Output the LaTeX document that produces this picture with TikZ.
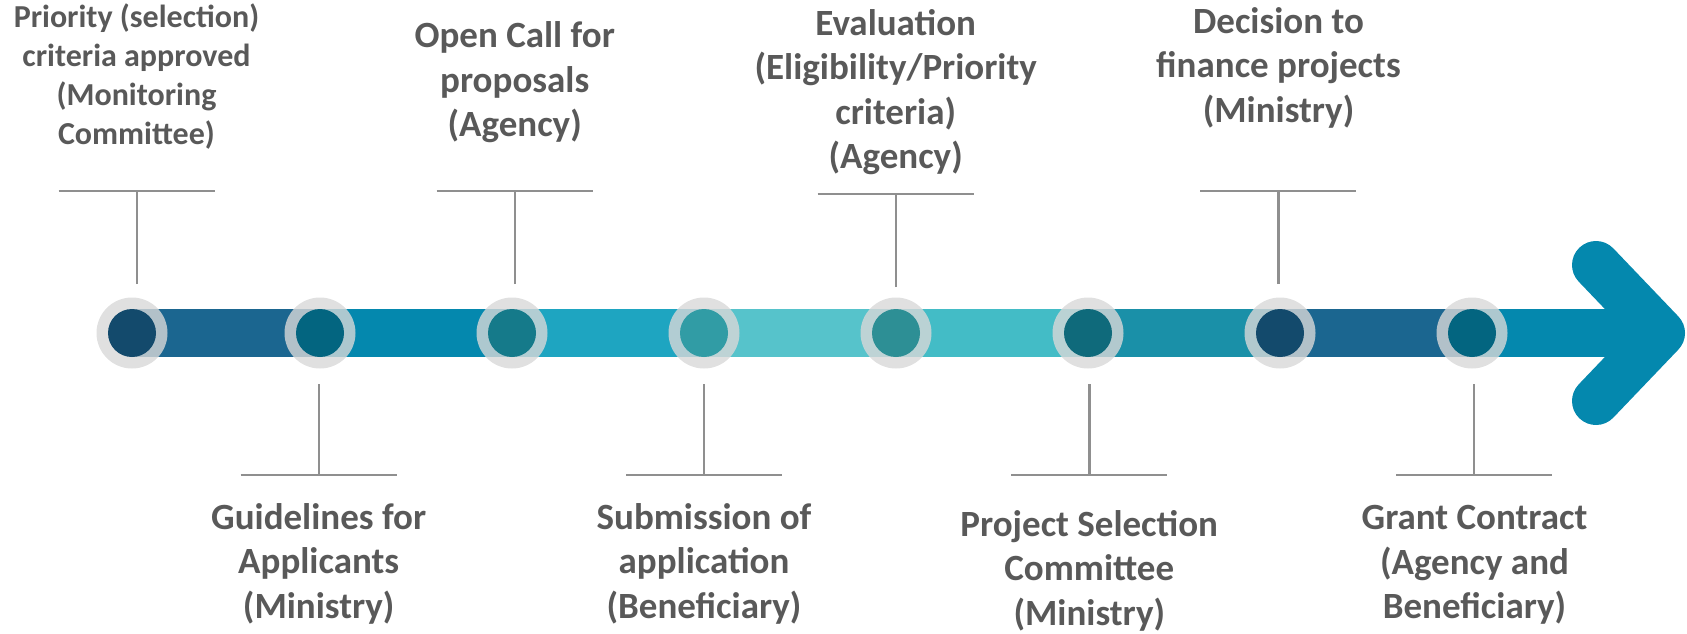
\documentclass[tikz,border=0pt]{standalone}
\usepackage{fontspec}
\newfontfamily\lblfont{Carlito}
\definecolor{txt}{HTML}{595959}
\definecolor{leadc}{HTML}{8F8F8F}
\definecolor{ringc}{HTML}{D8D8D8}
\definecolor{sA}{HTML}{1B6690}
\definecolor{sB}{HTML}{0488AE}
\definecolor{sC}{HTML}{1EA5C1}
\definecolor{sD}{HTML}{56C3CB}
\definecolor{sE}{HTML}{43BCC6}
\definecolor{sF}{HTML}{1A90A8}
\definecolor{dA}{HTML}{134A6C}
\definecolor{dB}{HTML}{036580}
\definecolor{dC}{HTML}{157A8A}
\definecolor{dD}{HTML}{319CA5}
\definecolor{dE}{HTML}{2D8F95}
\definecolor{dF}{HTML}{0F6A7B}
\newcommand\firststrut{\rule{0pt}{0.8em}}
\tikzset{
  ringnode/.style={circle, fill=ringc, fill opacity=0.8, minimum size=71pt, inner sep=0pt},
  dotnode/.style={circle, minimum size=48pt, inner sep=0pt},
  leader/.style={draw=leadc, line width=2.4pt},
  lbl/.style={font=\lblfont\bfseries\fontsize{37}{44.5}\selectfont, text=txt, align=center, anchor=north, inner sep=0pt},
  lblsmall/.style={lbl, font=\lblfont\bfseries\fontsize{32}{39}\selectfont},
  barseg/.style={draw=none},
}
\begin{document}
\begin{tikzpicture}[x=1pt,y=-1pt]
\useasboundingbox (0,0) rectangle (1687,633);
% bar segments
\fill[sA] (132,309) rectangle (320,357);
\fill[sB] (320,309) rectangle (512,357);
\fill[sC] (512,309) rectangle (704,357);
\fill[sD] (704,309) rectangle (896,357);
\fill[sE] (896,309) rectangle (1088,357);
\fill[sF] (1088,309) rectangle (1280,357);
\fill[sA] (1280,309) rectangle (1472,357);
\fill[sB] (1472,309) rectangle (1661,357);
% chevron
\coordinate (chA) at (1596,265);
\coordinate (chT) at (1661,333);
\coordinate (chB) at (1596,401);
\draw[sB, line width=48pt, line cap=round, line join=round] (chA) -- (chT) -- (chB);
% rings and dots
\node[ringnode] (r1) at (132,333) {};
\node[ringnode] (r2) at (320,333) {};
\node[ringnode] (r3) at (512,333) {};
\node[ringnode] (r4) at (704,333) {};
\node[ringnode] (r5) at (896,333) {};
\node[ringnode] (r6) at (1088,333) {};
\node[ringnode] (r7) at (1280,333) {};
\node[ringnode] (r8) at (1472,333) {};
\node[dotnode, fill=dA] (d1) at (r1) {};
\node[dotnode, fill=dB] (d2) at (r2) {};
\node[dotnode, fill=dC] (d3) at (r3) {};
\node[dotnode, fill=dD] (d4) at (r4) {};
\node[dotnode, fill=dE] (d5) at (r5) {};
\node[dotnode, fill=dF] (d6) at (r6) {};
\node[dotnode, fill=dA] (d7) at (r7) {};
\node[dotnode, fill=dB] (d8) at (r8) {};
% top leaders
\coordinate (v1a) at (136.7,284); \coordinate (v1b) at (136.7,191);
\coordinate (h1a) at (58.7,191); \coordinate (h1b) at (214.7,191);
\draw[leader] (v1a) -- (v1b) (h1a) -- (h1b);
\coordinate (v3a) at (514.7,284); \coordinate (v3b) at (514.7,191);
\coordinate (h3a) at (436.7,191); \coordinate (h3b) at (592.7,191);
\draw[leader] (v3a) -- (v3b) (h3a) -- (h3b);
\coordinate (v5a) at (895.7,287); \coordinate (v5b) at (895.7,194);
\coordinate (h5a) at (817.7,194); \coordinate (h5b) at (973.7,194);
\draw[leader] (v5a) -- (v5b) (h5a) -- (h5b);
\coordinate (v7a) at (1278.3,284); \coordinate (v7b) at (1278.3,191);
\coordinate (h7a) at (1200.3,191); \coordinate (h7b) at (1356.3,191);
\draw[leader] (v7a) -- (v7b) (h7a) -- (h7b);
% bottom leaders
\coordinate (v2a) at (318.7,384); \coordinate (v2b) at (318.7,475);
\coordinate (h2a) at (240.7,475); \coordinate (h2b) at (396.7,475);
\draw[leader] (v2a) -- (v2b) (h2a) -- (h2b);
\coordinate (v4a) at (704,384); \coordinate (v4b) at (704,475);
\coordinate (h4a) at (626,475); \coordinate (h4b) at (782,475);
\draw[leader] (v4a) -- (v4b) (h4a) -- (h4b);
\coordinate (v6a) at (1089.3,384); \coordinate (v6b) at (1089.3,475);
\coordinate (h6a) at (1011.3,475); \coordinate (h6b) at (1167.3,475);
\draw[leader] (v6a) -- (v6b) (h6a) -- (h6b);
\coordinate (v8a) at (1474,384); \coordinate (v8b) at (1474,475);
\coordinate (h8a) at (1396,475); \coordinate (h8b) at (1552,475);
\draw[leader] (v8a) -- (v8b) (h8a) -- (h8b);
% labels
\node[lblsmall] (L1) at (136.5,1.4) {\firststrut Priority (selection)\\criteria approved\\(Monitoring\\Committee)};
\node[lbl] (L3) at (514.7,17.9) {\firststrut Open Call for\\proposals\\(Agency)};
\node[lbl] (L5) at (895.7,5.4) {\firststrut Evaluation\\(Eligibility/Priority\\criteria)\\(Agency)};
\node[lbl] (L7) at (1278.5,3.4) {\firststrut Decision to\\finance projects\\(Ministry)};
\node[lbl] (L2) at (318.7,499.4) {\firststrut Guidelines for\\Applicants\\(Ministry)};
\node[lbl] (L4) at (704,499.4) {\firststrut Submission of\\application\\(Beneficiary)};
\node[lbl] (L6) at (1089.3,506.4) {\firststrut Project Selection\\Committee\\(Ministry)};
\node[lbl] (L8) at (1474.5,499.9) {\firststrut Grant Contract\\(Agency and\\Beneficiary)};
\end{tikzpicture}
\end{document}
